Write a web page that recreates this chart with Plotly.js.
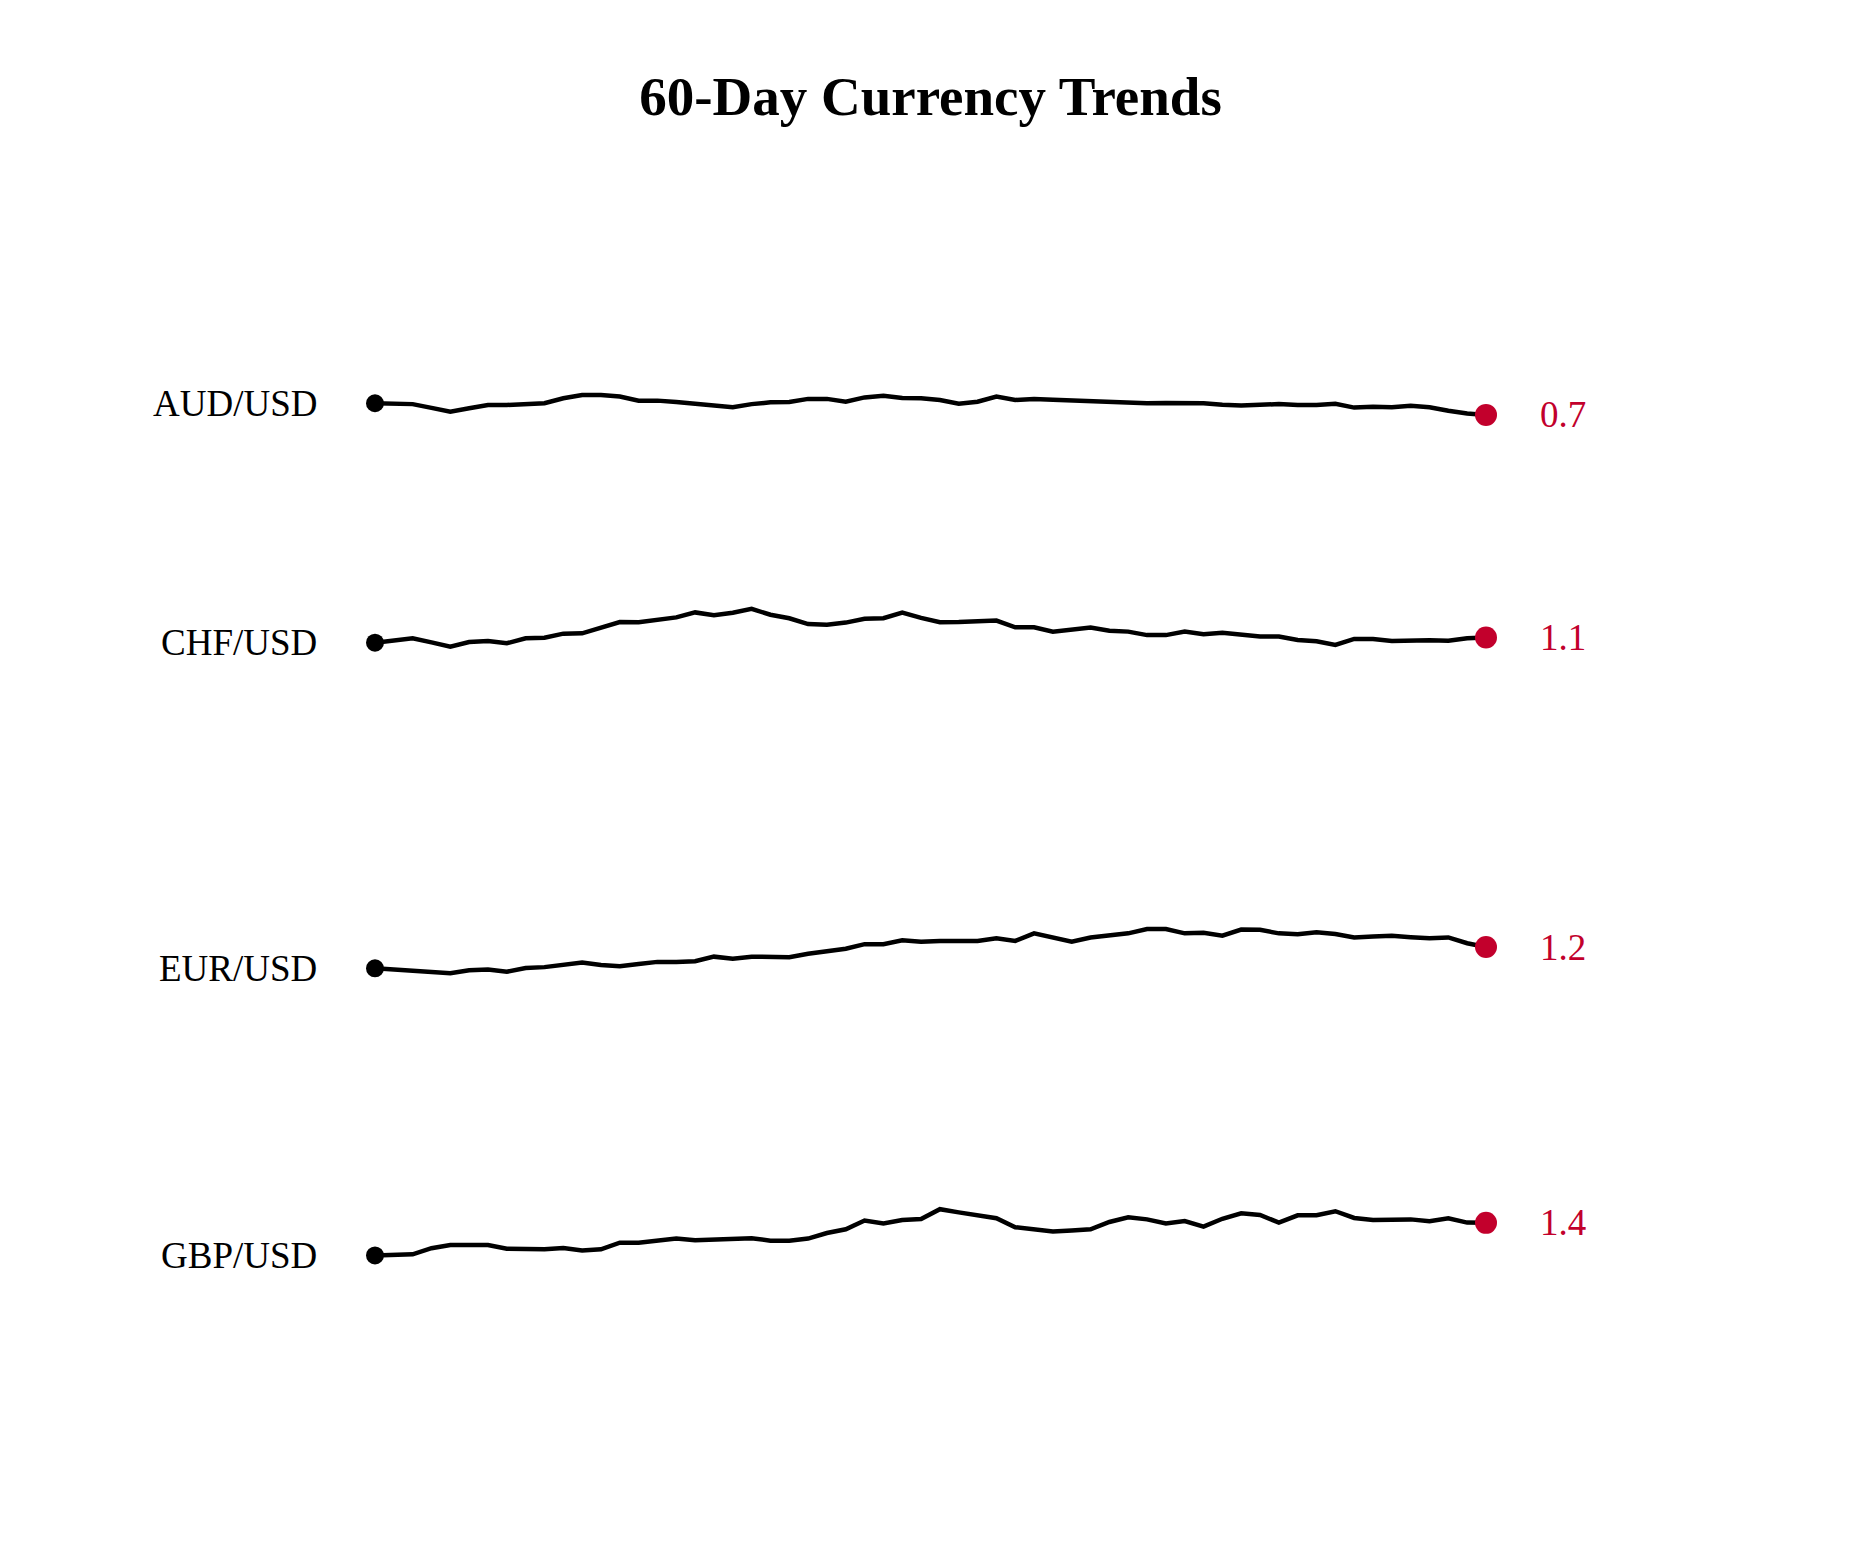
<!DOCTYPE html>
<html>
<head>
<meta charset="utf-8">
<script src="https://cdn.plot.ly/plotly-3.0.1.min.js"></script>
<style>html,body{margin:0;padding:0;background:#fff;}#chart{width:1859px;height:1559px;}</style>
</head>
<body>
<div id="chart"></div>
<script>
// Currency pairs (top to bottom)
const pairs = ["AUD/USD", "CHF/USD", "EUR/USD", "GBP/USD"];

// Day index for the 60-day window
const days = Array.from({length: 60}, (_, i) => i + 1);

// Daily rates
const aud = [0.740,0.738,0.737,0.724,0.711,0.723,0.734,0.734,0.736,0.740,
             0.757,0.768,0.768,0.763,0.749,0.749,0.744,0.738,0.735,0.726,
             0.737,0.743,0.744,0.755,0.755,0.745,0.760,0.766,0.758,0.757,
             0.751,0.738,0.745,0.763,0.751,0.755,0.752,0.750,0.748,0.743,
             0.743,0.740,0.741,0.741,0.740,0.735,0.732,0.735,0.737,0.734,
             0.734,0.738,0.725,0.728,0.726,0.731,0.726,0.714,0.705,0.700];

const chf = [1.082,1.090,1.097,1.083,1.068,1.084,1.088,1.080,1.097,1.099,
             1.113,1.114,1.134,1.153,1.152,1.161,1.169,1.186,1.176,1.185,
             1.198,1.178,1.166,1.146,1.144,1.151,1.164,1.166,1.185,1.167,
             1.152,1.153,1.155,1.158,1.135,1.135,1.120,1.128,1.134,1.123,
             1.120,1.108,1.108,1.120,1.111,1.116,1.111,1.103,1.103,1.091,
             1.087,1.074,1.095,1.095,1.088,1.090,1.090,1.089,1.097,1.100];

const eur = [1.128,1.124,1.122,1.116,1.111,1.121,1.124,1.116,1.129,1.132,
             1.140,1.148,1.139,1.135,1.143,1.150,1.150,1.152,1.168,1.161,
             1.168,1.167,1.166,1.178,1.187,1.195,1.211,1.211,1.224,1.219,
             1.222,1.221,1.222,1.231,1.222,1.248,1.234,1.219,1.234,1.242,
             1.248,1.263,1.263,1.248,1.250,1.240,1.261,1.260,1.248,1.245,
             1.252,1.246,1.234,1.237,1.240,1.235,1.231,1.234,1.214,1.201];

const gbp = [1.306,1.308,1.310,1.331,1.342,1.342,1.342,1.329,1.329,1.327,
             1.332,1.323,1.327,1.350,1.350,1.356,1.364,1.358,1.361,1.363,
             1.365,1.357,1.357,1.364,1.383,1.396,1.426,1.416,1.428,1.431,
             1.465,1.454,1.445,1.434,1.403,1.396,1.388,1.392,1.396,1.421,
             1.437,1.430,1.416,1.424,1.405,1.432,1.451,1.445,1.419,1.444,
             1.444,1.458,1.435,1.428,1.429,1.430,1.424,1.434,1.419,1.418];

const series = [aud, chf, eur, gbp];

const lineColor = "#000000";
const accent = "#C2002C";
const fontFamily = "'Liberation Serif', 'Times New Roman', Times, serif";

// Subplot domains (top to bottom)
const domains = [[0.79515, 1], [0.53010, 0.73495], [0.26505, 0.46990], [0, 0.20485]];

const traces = [];
const annotations = [];
const layout = {
  width: 1859,
  height: 1559,
  paper_bgcolor: "#ffffff",
  plot_bgcolor: "#ffffff",
  showlegend: false,
  margin: {l: 375, r: 373, t: 182, b: 98},
  font: {family: fontFamily, size: 37, color: "#000000"},
  title: {
    text: "<b>60-Day Currency Trends</b>",
    font: {family: fontFamily, size: 55, color: "#000000"},
    x: 0.5, xanchor: "center",
    xref: "paper", yref: "container", y: 0.9384, yanchor: "middle"
  },
  annotations: annotations
};

series.forEach((vals, k) => {
  const n = k + 1;
  const xa = n === 1 ? "x" : "x" + n;
  const ya = n === 1 ? "y" : "y" + n;
  const last = vals.length - 1;

  traces.push({
    type: "scatter", mode: "lines",
    x: days, y: vals, xaxis: xa, yaxis: ya,
    line: {color: lineColor, width: 4.5},
    cliponaxis: false, hoverinfo: "skip"
  });
  traces.push({
    type: "scatter", mode: "markers",
    x: [days[0]], y: [vals[0]], xaxis: xa, yaxis: ya,
    marker: {color: lineColor, size: 18},
    cliponaxis: false, hoverinfo: "skip"
  });
  traces.push({
    type: "scatter", mode: "markers",
    x: [days[last]], y: [vals[last]], xaxis: xa, yaxis: ya,
    marker: {color: accent, size: 22},
    cliponaxis: false, hoverinfo: "skip"
  });

  annotations.push({
    xref: xa, yref: ya, x: days[0], y: vals[0],
    text: pairs[k], showarrow: false,
    xanchor: "right", yanchor: "middle", xshift: -56,
    font: {family: fontFamily, size: 37, color: "#000000"}
  });
  annotations.push({
    xref: xa, yref: ya, x: days[last], y: vals[last],
    text: vals[last].toFixed(1), showarrow: false,
    xanchor: "left", yanchor: "middle", xshift: 52,
    font: {family: fontFamily, size: 37, color: accent}
  });

  const xKey = n === 1 ? "xaxis" : "xaxis" + n;
  const yKey = n === 1 ? "yaxis" : "yaxis" + n;
  layout[xKey] = {
    domain: [0, 1], anchor: ya, range: [1, 60],
    visible: false, showgrid: false, zeroline: false
  };
  layout[yKey] = {
    domain: domains[k], anchor: xa, range: [0.6, 1.5],
    visible: false, showgrid: false, zeroline: false
  };
});

Plotly.newPlot("chart", traces, layout, {displayModeBar: false, staticPlot: true});
</script>
</body>
</html>
